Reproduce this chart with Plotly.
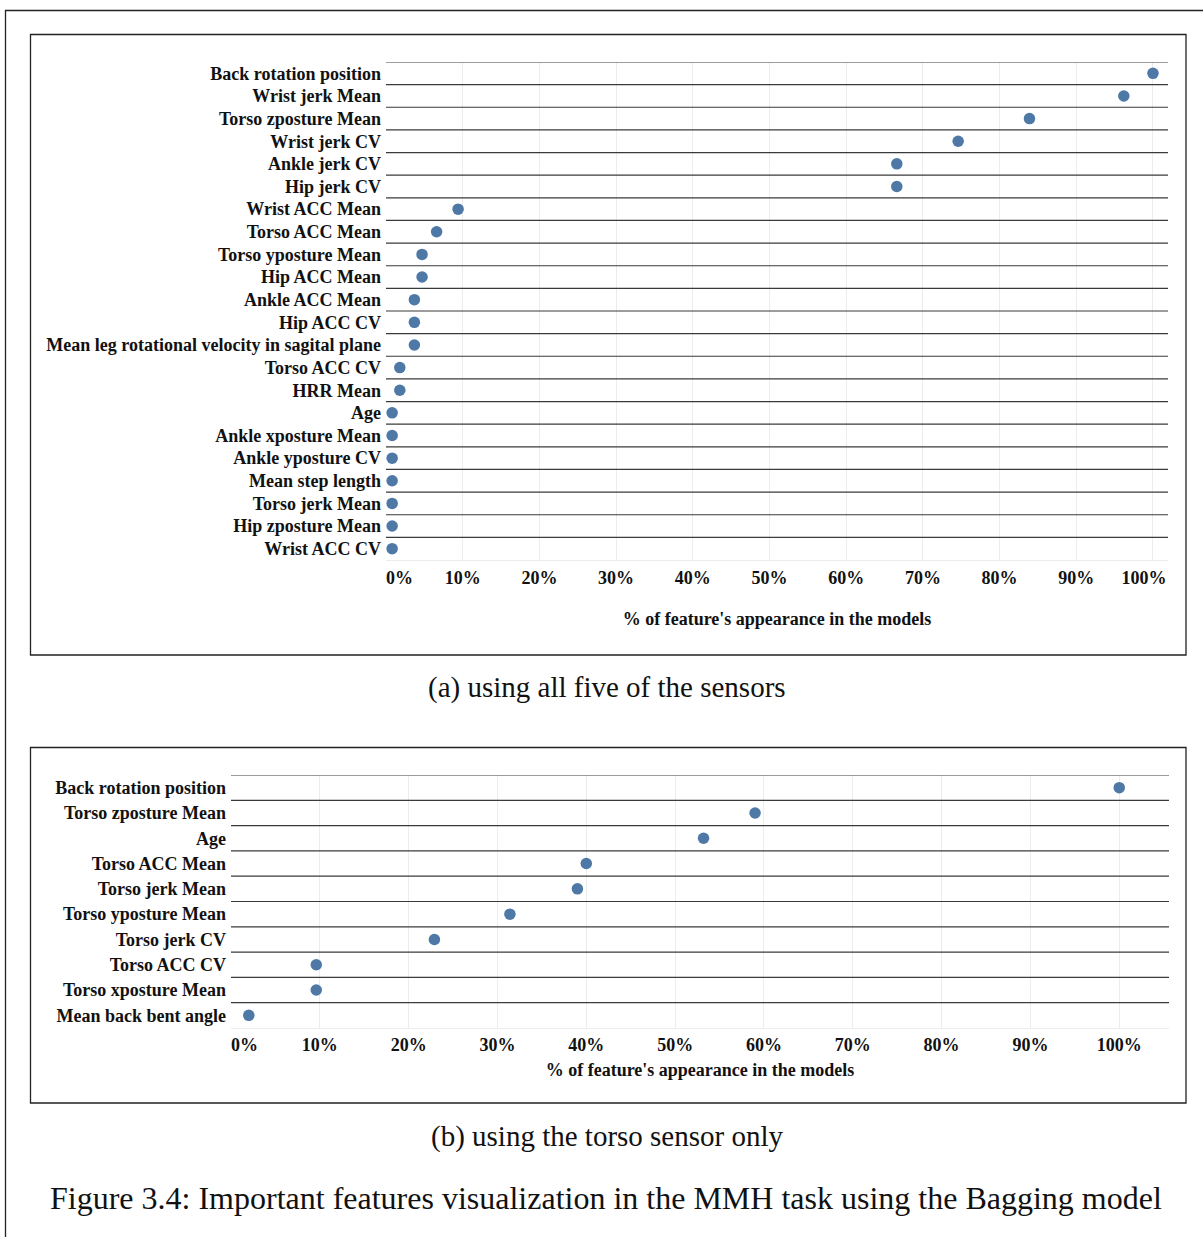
import plotly.graph_objects as go

W, H = 1203, 1237

# ---------------- data ----------------
features_a = [
    "Back rotation position", "Wrist jerk Mean", "Torso zposture Mean", "Wrist jerk CV",
    "Ankle jerk CV", "Hip jerk CV", "Wrist ACC Mean", "Torso ACC Mean",
    "Torso yposture Mean", "Hip ACC Mean", "Ankle ACC Mean", "Hip ACC CV",
    "Mean leg rotational velocity in sagital plane", "Torso ACC CV", "HRR Mean", "Age",
    "Ankle xposture Mean", "Ankle yposture CV", "Mean step length", "Torso jerk Mean",
    "Hip zposture Mean", "Wrist ACC CV",
]
values_a = [100.0, 96.2, 83.9, 74.6, 66.6, 66.6, 9.4, 6.6, 4.7, 4.7, 3.7, 3.7, 3.7,
            1.8, 1.8, 0.8, 0.8, 0.8, 0.8, 0.8, 0.8, 0.8]

features_b = [
    "Back rotation position", "Torso zposture Mean", "Age", "Torso ACC Mean",
    "Torso jerk Mean", "Torso yposture Mean", "Torso jerk CV", "Torso ACC CV",
    "Torso xposture Mean", "Mean back bent angle",
]
values_b = [100.0, 59.0, 53.2, 40.0, 39.0, 31.4, 22.9, 9.6, 9.6, 2.0]

tick_vals = [0, 10, 20, 30, 40, 50, 60, 70, 80, 90, 100]
tick_labels = ["0%", "10%", "20%", "30%", "40%", "50%", "60%", "70%", "80%", "90%", "100%"]

x_title = "% of feature's appearance in the models"
caption_a = "(a) using all five of the sensors"
caption_b = "(b) using the torso sensor only"
fig_caption = "Figure 3.4: Important features visualization in the MMH task using the Bagging model"

# ---------------- helpers ----------------
def fx(p):
    return p / W

def fy(p):
    return 1 - p / H

NB = "\u00a0"
FONT = "Liberation Serif"
BLUE = "#4E79A7"
LBL = dict(family=FONT, size=18, color="#111111", weight="bold")

fig = go.Figure()

fig.add_trace(go.Scatter(
    x=values_a, y=features_a, mode="markers", xaxis="x", yaxis="y",
    marker=dict(color=BLUE, size=11.5), showlegend=False, hoverinfo="x+y"))
fig.add_trace(go.Scatter(
    x=values_b, y=features_b, mode="markers", xaxis="x2", yaxis="y2",
    marker=dict(color=BLUE, size=11.5), showlegend=False, hoverinfo="x+y"))

ticks_a = list(tick_labels)
ticks_a[0] = NB * 6 + ticks_a[0]
ticks_a[-1] = ticks_a[-1] + NB * 4
ticks_b = list(tick_labels)
ticks_b[0] = NB * 6 + ticks_b[0]

common_x = dict(
    showgrid=True, gridcolor="#ececec", gridwidth=1, zeroline=False,
    showline=True, linecolor="#ececec", linewidth=1, ticks="",
    tickmode="array", tickvals=tick_vals, tickfont=LBL, fixedrange=True,
    automargin=False,
)
common_y = dict(
    showgrid=False, zeroline=False, showline=False, ticks="",
    tickfont=LBL, categoryorder="array", fixedrange=True, ticklabelstandoff=4,
    automargin=False,
)

fig.update_layout(
    width=W, height=H,
    margin=dict(l=0, r=0, t=0, b=0, autoexpand=False),
    paper_bgcolor="white", plot_bgcolor="white",
    font=dict(family=FONT, color="#111111"),
    xaxis=dict(common_x, domain=[fx(386), fx(1168)], range=[0, 101.96],
               ticktext=ticks_a, anchor="y", ticklabelstandoff=1,
               title=dict(text=x_title, font=LBL, standoff=25)),
    yaxis=dict(common_y, domain=[fy(560), fy(62)], anchor="x",
               categoryarray=features_a,
               range=[len(features_a) - 0.5, -0.5]),
    xaxis2=dict(common_x, domain=[fx(231), fx(1169)], range=[0, 105.6],
                ticktext=ticks_b, anchor="y2", ticklabelstandoff=0,
                title=dict(text=x_title, font=LBL, standoff=9)),
    yaxis2=dict(common_y, domain=[fy(1028), fy(775)], anchor="x2",
                categoryarray=features_b,
                range=[len(features_b) - 0.5, -0.5]),
)

shapes = []
# row separators
for i in range(len(features_a)):
    shapes.append(dict(type="line", xref="x domain", yref="y", x0=0, x1=1,
                       y0=i - 0.5, y1=i - 0.5, line=dict(color="#3a3a3a", width=1.2)))
for i in range(len(features_b)):
    shapes.append(dict(type="line", xref="x2 domain", yref="y2", x0=0, x1=1,
                       y0=i - 0.5, y1=i - 0.5, line=dict(color="#3a3a3a", width=1.2)))
# panel frames
shapes.append(dict(type="rect", xref="paper", yref="paper", x0=fx(30.5), x1=fx(1186),
                   y0=fy(655), y1=fy(34.5), line=dict(color="#222222", width=1.3)))
shapes.append(dict(type="rect", xref="paper", yref="paper", x0=fx(30.5), x1=fx(1186),
                   y0=fy(1103), y1=fy(747.5), line=dict(color="#222222", width=1.3)))
# outer page frame
shapes.append(dict(type="rect", xref="paper", yref="paper", x0=fx(5.5), x1=fx(1215),
                   y0=fy(1260), y1=fy(10.5), line=dict(color="#222222", width=1.3)))
fig.update_layout(shapes=shapes)

ann = [
    dict(text=caption_a, x=fx(607), y=fy(687), xref="paper", yref="paper",
         showarrow=False, font=dict(family=FONT, size=29, color="#111111"),
         xanchor="center", yanchor="middle"),
    dict(text=caption_b, x=fx(607), y=fy(1136), xref="paper", yref="paper",
         showarrow=False, font=dict(family=FONT, size=29, color="#111111"),
         xanchor="center", yanchor="middle"),
    dict(text=fig_caption, x=fx(606), y=fy(1198), xref="paper", yref="paper",
         showarrow=False, font=dict(family=FONT, size=32, color="#111111"),
         xanchor="center", yanchor="middle"),
]
fig.update_layout(annotations=ann)

fig.write_html("out.html", config={"displayModeBar": False},
               post_script="document.body.style.margin='0';")
